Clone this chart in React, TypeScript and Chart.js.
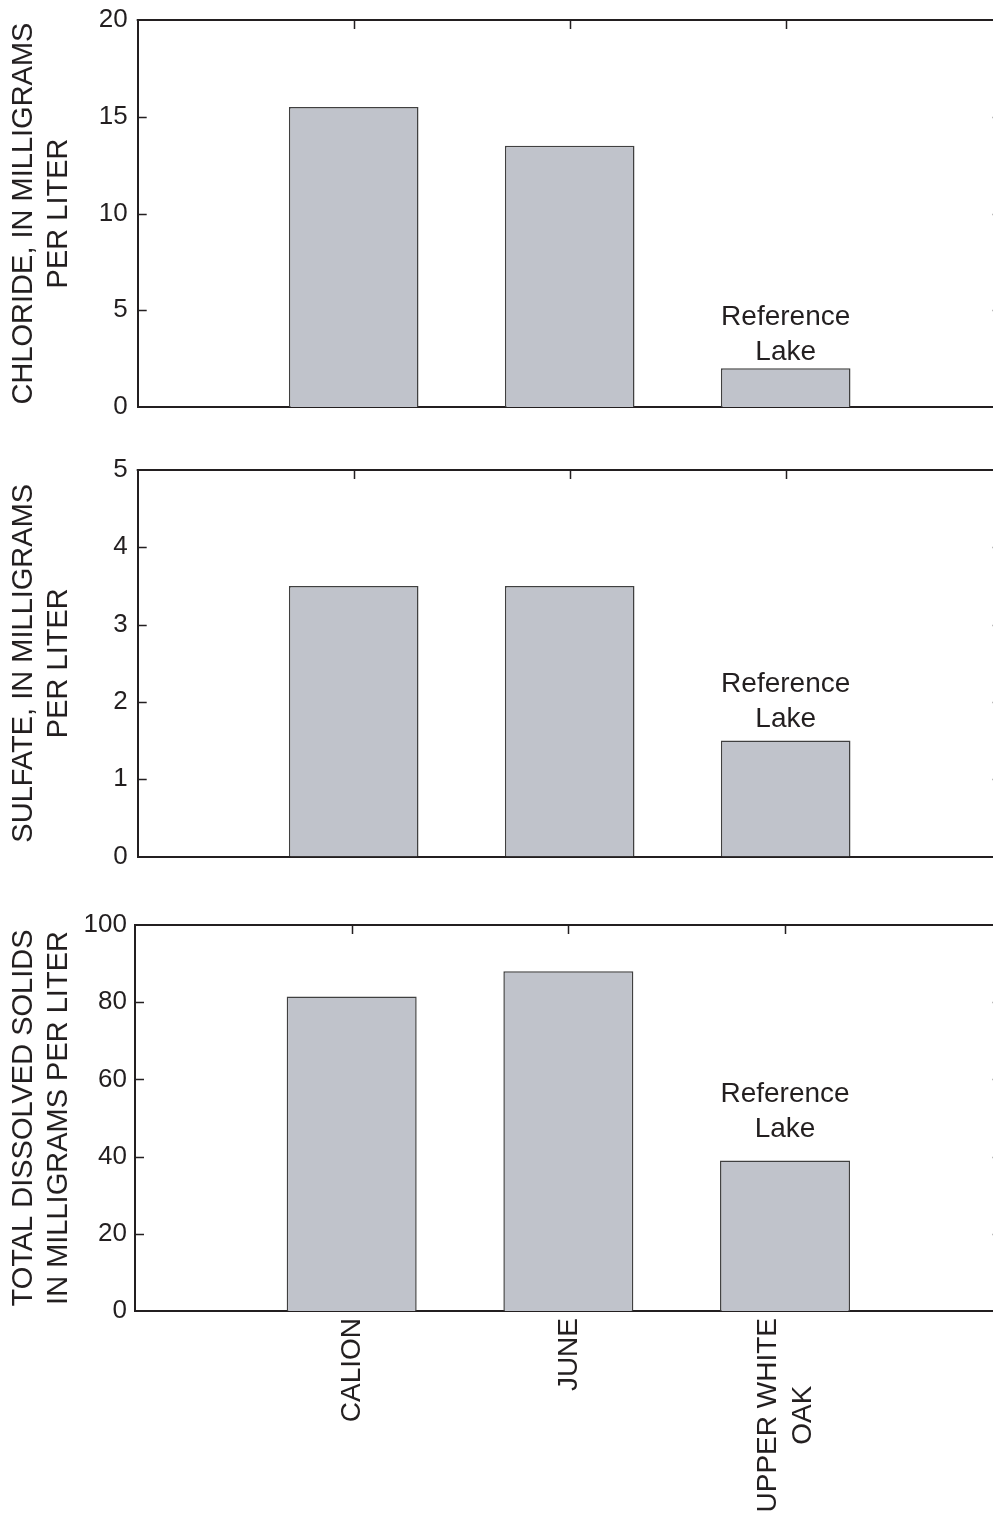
import React, { useEffect, useRef } from 'react';
import { Chart, registerables } from 'chart.js';

Chart.register(...registerables);

// ---------- data ----------
const categories: (string | string[])[] = ['', 'CALION', 'JUNE', ['UPPER WHITE', 'OAK'], ''];
const chlorideValues: (number | null)[] = [null, 15.5, 13.5, 2, null];
const sulfateValues: (number | null)[] = [null, 3.5, 3.5, 1.5, null];
const tdsValues: (number | null)[] = [null, 81.5, 88, 39, null];
const chlorideTitle = ['CHLORIDE, IN MILLIGRAMS', 'PER LITER'];
const sulfateTitle = ['SULFATE, IN MILLIGRAMS', 'PER LITER'];
const tdsTitle = ['TOTAL DISSOLVED SOLIDS', 'IN MILLIGRAMS PER LITER'];
const chlorideAxis = [0, 20, 5]; // min, max, step
const sulfateAxis = [0, 5, 1];
const tdsAxis = [0, 100, 20];
const annotationLines = ['Reference', 'Lake'];
const annotationIndex = 3;

// ---------- styles ----------
const FONT = '"Liberation Sans", Arial, Helvetica, sans-serif';
const INK = '#231f20';
const BAR_FILL = '#c0c3cb';
const BAR_EDGE = '#404040';
const CANVAS_W = 1010;

type PanelCfg = {
  values: (number | null)[];
  title: string[];
  axis: number[];
  top: number;
  height: number;
  padTop: number;
  padBottom: number;
  yWidth: number;
  xHeight: number;
  showX: boolean;
  lakeGap: number;
  tickPad: number;
};

const panels: PanelCfg[] = [
  { values: chlorideValues, title: chlorideTitle, axis: chlorideAxis, top: -10, height: 450, padTop: 30, padBottom: 33, yWidth: 137.7, xHeight: 0, showX: false, lakeGap: 8, tickPad: 10 },
  { values: sulfateValues, title: sulfateTitle, axis: sulfateAxis, top: 440, height: 450, padTop: 30, padBottom: 33.5, yWidth: 137.7, xHeight: 0, showX: false, lakeGap: 14, tickPad: 10 },
  { values: tdsValues, title: tdsTitle, axis: tdsAxis, top: 890, height: 630, padTop: 35, padBottom: 0, yWidth: 135, xHeight: 209, showX: true, lakeGap: 23, tickPad: 8 },
];

function makeFramePlugin(cfg: PanelCfg) {
  return {
    id: 'frame',
    afterDraw(chart: any) {
      const { ctx, chartArea } = chart;
      const { left, right, top, bottom } = chartArea;
      const x = chart.scales.x;
      const y = chart.scales.y;
      ctx.save();
      ctx.strokeStyle = INK;
      ctx.lineWidth = 2;
      ctx.beginPath();
      ctx.moveTo(left - 1, top);
      ctx.lineTo(right, top);
      ctx.moveTo(right, top);
      ctx.lineTo(right, bottom);
      ctx.stroke();
      ctx.lineWidth = 1.5;
      ctx.beginPath();
      y.ticks.forEach((t: any) => {
        const py = Math.round(y.getPixelForValue(t.value)) + 0.5;
        if (Math.abs(py - top) < 2 || Math.abs(py - bottom) < 2) return;
        ctx.moveTo(left, py);
        ctx.lineTo(left + 9, py);
        ctx.moveTo(right - 9, py);
        ctx.lineTo(right, py);
      });
      for (let i = 1; i < categories.length - 1; i++) {
        const px = Math.round(x.getPixelForValue(i)) + 0.5;
        ctx.moveTo(px, top);
        ctx.lineTo(px, top + 9);
      }
      ctx.stroke();

      // annotation
      const ax = x.getPixelForValue(annotationIndex);
      const v = cfg.values[annotationIndex] as number;
      const barTop = y.getPixelForValue(v);
      ctx.fillStyle = INK;
      ctx.font = `28px ${FONT}`;
      ctx.textAlign = 'center';
      ctx.textBaseline = 'alphabetic';
      const lakeBase = barTop - cfg.lakeGap;
      ctx.fillText(annotationLines[1], ax, lakeBase);
      ctx.fillText(annotationLines[0], ax, lakeBase - 35);

      // category labels
      if (cfg.showX) {
        ctx.font = `28px ${FONT}`;
        ctx.textBaseline = 'middle';
        categories.forEach((lab, i) => {
          const lines = Array.isArray(lab) ? lab : [lab];
          if (!lines.join('')) return;
          const px = x.getPixelForValue(i);
          const w = Math.max(...lines.map((l) => ctx.measureText(l).width));
          ctx.save();
          ctx.translate(px, bottom + 7);
          ctx.rotate(-Math.PI / 2);
          ctx.textAlign = 'center';
          lines.forEach((l, j) => {
            const off = (j - (lines.length - 1) / 2) * 35;
            ctx.fillText(l, -w / 2, off + 1);
          });
          ctx.restore();
        });
      }
      ctx.restore();
    },
  };
}

function Panel({ cfg }: { cfg: PanelCfg }) {
  const ref = useRef<HTMLCanvasElement>(null);
  useEffect(() => {
    if (!ref.current) return;
    const chart = new Chart(ref.current, {
      type: 'bar',
      data: {
        labels: categories as any,
        datasets: [
          {
            data: cfg.values as any,
            backgroundColor: BAR_FILL,
            borderColor: BAR_EDGE,
            borderWidth: 1.5,
            barPercentage: 0.6,
            categoryPercentage: 1,
          },
        ],
      },
      options: {
        responsive: false,
        animation: false,
        devicePixelRatio: 1,
        layout: { padding: { left: 0, right: CANVAS_W - 1001.7, top: cfg.padTop, bottom: cfg.padBottom } },
        plugins: { legend: { display: false }, tooltip: { enabled: false }, title: { display: false } },
        scales: {
          x: {
            type: 'category',
            offset: false,
            grid: { display: false, offset: false, drawTicks: false },
            border: { display: true, color: INK, width: 2 },
            ticks: { display: false },
            afterFit: (s: any) => {
              s.height = cfg.xHeight;
            },
          },
          y: {
            min: cfg.axis[0],
            max: cfg.axis[1],
            grid: { display: false, drawTicks: false },
            border: { display: true, color: INK, width: 2 },
            ticks: {
              stepSize: cfg.axis[2],
              color: INK,
              padding: cfg.tickPad,
              font: { family: FONT, size: 26 },
            },
            title: {
              display: true,
              text: cfg.title,
              color: INK,
              font: { family: FONT, size: 29, lineHeight: 1.2 },
              padding: { top: 6.5, bottom: 0 },
            },
            afterFit: (s: any) => {
              s.width = cfg.yWidth;
            },
          },
        },
      } as any,
      plugins: [makeFramePlugin(cfg)],
    });
    return () => chart.destroy();
  }, []);
  return (
    <canvas
      ref={ref}
      width={CANVAS_W}
      height={cfg.height}
      style={{ position: 'absolute', left: 0, top: cfg.top, width: CANVAS_W, height: cfg.height, display: 'block' }}
    />
  );
}

export default function App() {
  return (
    <div
      style={{
        position: 'absolute',
        left: 0,
        top: 0,
        width: 993,
        height: 1520,
        overflow: 'hidden',
        background: '#ffffff',
      }}
    >
      {panels.map((p, i) => (
        <Panel key={i} cfg={p} />
      ))}
    </div>
  );
}
